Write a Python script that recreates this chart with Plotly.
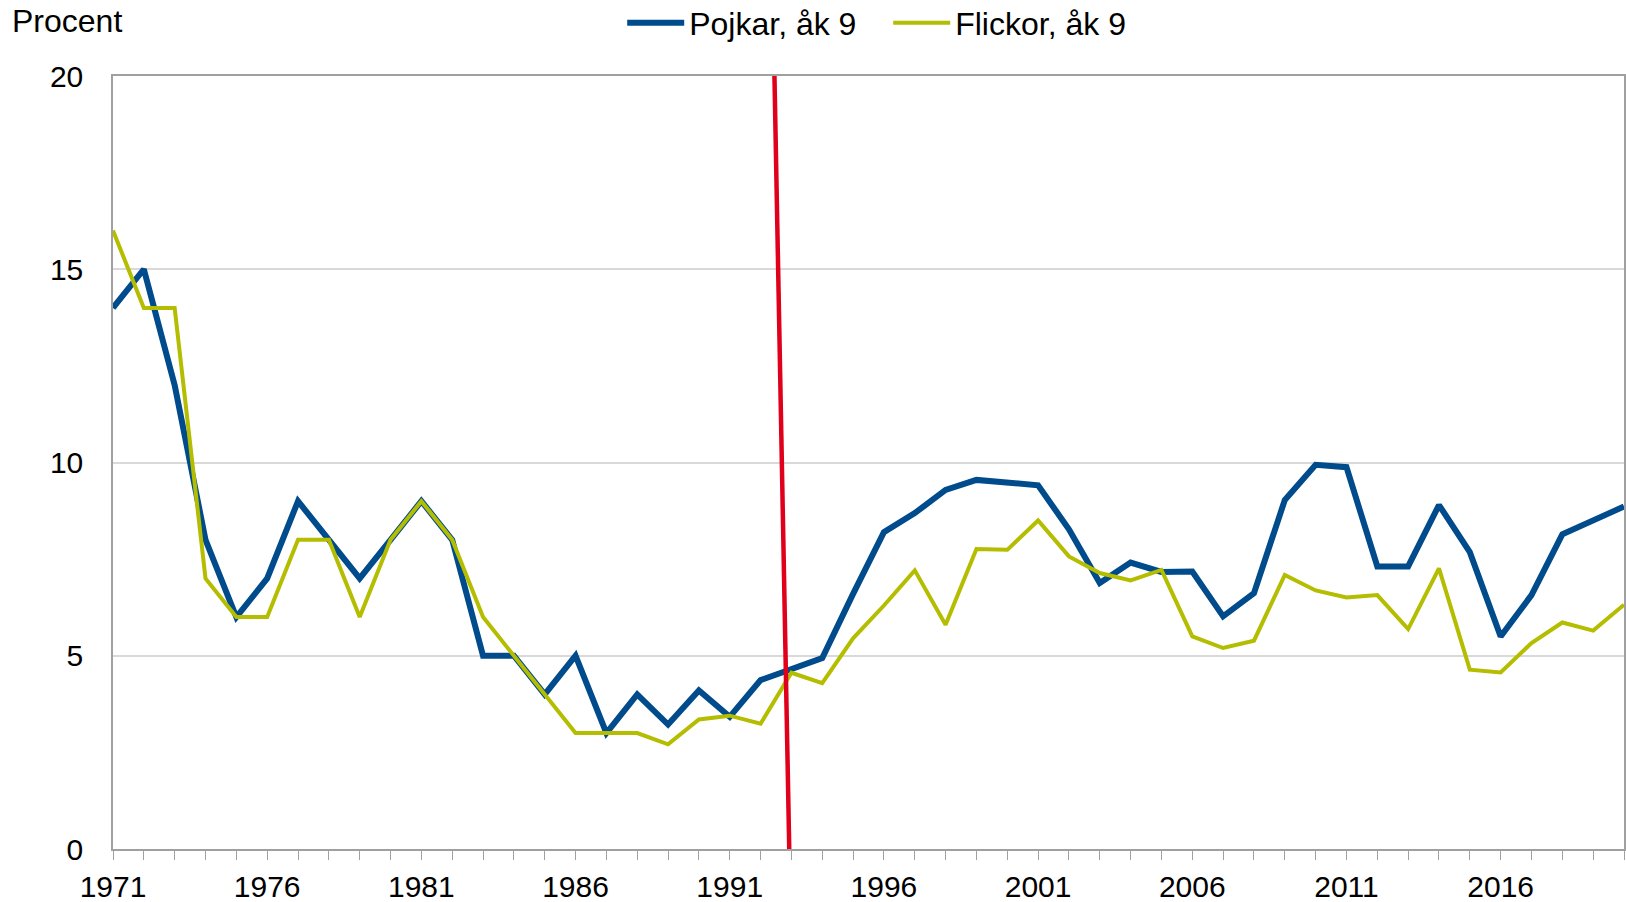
import plotly.graph_objects as go

years = list(range(1971, 2021))

pojkar = [14.0, 15.0, 12.0, 8.0, 6.0, 7.0, 9.0, 8.0, 7.0, 8.0,
          9.0, 8.0, 5.0, 5.0, 4.0, 5.0, 3.0, 4.0, 3.22, 4.1,
          3.42, 4.37, 4.66, 4.94, 6.6, 8.2, 8.69, 9.29, 9.55, 9.48,
          9.41, 8.27, 6.88, 7.41, 7.17, 7.18, 6.02, 6.62, 9.03, 9.94,
          9.88, 7.31, 7.31, 8.9, 7.68, 5.5, 6.57, 8.14, 8.51, 8.86]

flickor = [16.0, 14.0, 14.0, 7.0, 6.0, 6.0, 8.0, 8.0, 6.0, 8.0,
           9.0, 8.0, 6.0, 5.0, 4.0, 3.0, 3.0, 3.0, 2.71, 3.35,
           3.45, 3.24, 4.56, 4.29, 5.45, 6.3, 7.21, 5.8, 7.76, 7.74,
           8.5, 7.57, 7.14, 6.95, 7.22, 5.5, 5.2, 5.39, 7.09, 6.69,
           6.51, 6.57, 5.69, 7.26, 4.64, 4.57, 5.33, 5.86, 5.65, 6.32]

# red marker line (survey change), endpoints
red_x = [1992.45, 1992.93]
red_y = [20, 0]

tick_years = [1971, 1976, 1981, 1986, 1991, 1996, 2001, 2006, 2011, 2016]
tick_labels = [str(y) for y in tick_years]
y_ticks = [0, 5, 10, 15, 20]

BLUE = "#004B8C"
OLIVE = "#B4BD00"
RED = "#E0001B"
AXIS = "#A0A0A0"
FONT = "Liberation Sans, Arial, sans-serif"

fig = go.Figure()
fig.add_trace(go.Scatter(x=years, y=pojkar, mode="lines", name="Pojkar, åk 9",
                         line=dict(color=BLUE, width=6)))
fig.add_trace(go.Scatter(x=years, y=flickor, mode="lines", name="Flickor, åk 9",
                         line=dict(color=OLIVE, width=4)))
fig.add_trace(go.Scatter(x=red_x, y=red_y, mode="lines", showlegend=False,
                         line=dict(color=RED, width=4.5), hoverinfo="skip"))

fig.update_layout(
    width=1626, height=902,
    margin=dict(l=113, r=2, t=76, b=53, autoexpand=False),
    paper_bgcolor="white", plot_bgcolor="white",
    font=dict(family=FONT, size=30, color="black"),
    showlegend=True,
    legend=dict(orientation="h", x=0.337, xanchor="left", y=1.0686, yanchor="middle",
                font=dict(size=32, family=FONT, color="black"),
                bgcolor="rgba(0,0,0,0)", itemwidth=57,
                entrywidth=194, entrywidthmode="pixels"),
    annotations=[dict(text="Procent", xref="paper", yref="paper", x=-0.0679, y=1.071,
                      xanchor="left", yanchor="middle", showarrow=False,
                      font=dict(size=32, color="black", family=FONT))],
)

fig.update_xaxes(range=[1971, 2020], tickvals=tick_years, ticktext=tick_labels,
                 ticks="outside", ticklen=9, tickcolor=AXIS, tickwidth=1,
                 minor=dict(dtick=1, tick0=1971, ticks="outside", ticklen=9,
                            tickcolor=AXIS, tickwidth=1, showgrid=False),
                 showgrid=False, showline=True, linecolor=AXIS, linewidth=1.5,
                 mirror=True, zeroline=False, ticklabelstandoff=1, automargin=False,
                 tickfont=dict(size=30, family=FONT, color="black"))
fig.update_yaxes(range=[0, 20], tickvals=y_ticks, showgrid=True, gridcolor="#D9D9D9",
                 gridwidth=1.5, showline=True, linecolor=AXIS, linewidth=1.5,
                 mirror=True, zeroline=False, ticks="", ticklabelstandoff=22,
                 automargin=False,
                 tickfont=dict(size=30, family=FONT, color="black"))

fig.write_html("out.html", config={"displayModeBar": False},
               post_script="document.body.style.margin='0px';")
